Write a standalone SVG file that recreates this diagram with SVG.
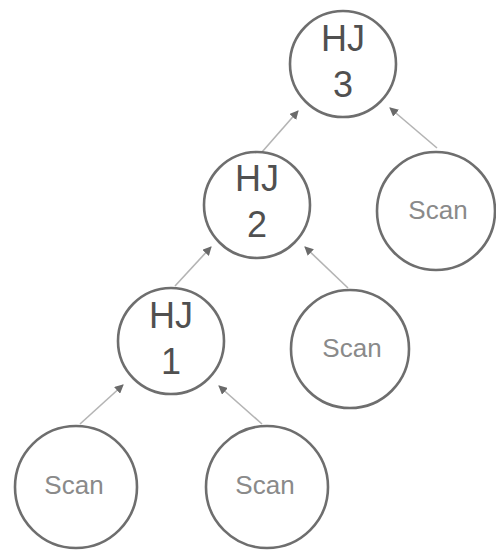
<svg xmlns="http://www.w3.org/2000/svg" width="496" height="550" viewBox="0 0 496 550">
  <style>
    .node circle { fill: #ffffff; stroke: #6e6e6e; stroke-width: 2.6; }
    .hj { font-family: "Liberation Sans", Arial, sans-serif; font-size: 36px; fill: #505050; text-anchor: middle; }
    .scan { font-family: "Liberation Sans", Arial, sans-serif; font-size: 26px; fill: #8a8a8a; text-anchor: middle; }
    .edge { stroke: #b4b4b4; stroke-width: 1.6; fill: none; marker-end: url(#arrow); }
  </style>
  <defs>
    <marker id="arrow" markerUnits="userSpaceOnUse" markerWidth="9" markerHeight="9" refX="8" refY="4.5" orient="auto">
      <path d="M0,0 L9,4.5 L0,9 Z" fill="#6a6a6a"/>
    </marker>
  </defs>

  <g id="connectors">
    <line class="edge" x1="80" y1="424" x2="123" y2="385"/>
    <line class="edge" x1="262" y1="424" x2="219" y2="386"/>
    <line class="edge" x1="175" y1="286" x2="211" y2="247"/>
    <line class="edge" x1="348" y1="288" x2="305" y2="247"/>
    <line class="edge" x1="262" y1="152" x2="298" y2="111"/>
    <line class="edge" x1="437" y1="148" x2="390" y2="108"/>
  </g>

  <g id="hj3" class="node">
    <circle cx="343" cy="64" r="53"/>
    <text class="hj" x="343" y="51">HJ</text>
    <text class="hj" x="343" y="97">3</text>
  </g>
  <g id="hj2" class="node">
    <circle cx="257" cy="205" r="53"/>
    <text class="hj" x="257" y="191">HJ</text>
    <text class="hj" x="257" y="237">2</text>
  </g>
  <g id="hj1" class="node">
    <circle cx="171" cy="341" r="53"/>
    <text class="hj" x="171" y="328">HJ</text>
    <text class="hj" x="171" y="374">1</text>
  </g>
  <g id="scan3" class="node">
    <circle cx="436" cy="211" r="59"/>
    <text class="scan" x="438" y="219">Scan</text>
  </g>
  <g id="scan2" class="node">
    <circle cx="350" cy="349" r="59"/>
    <text class="scan" x="352" y="357">Scan</text>
  </g>
  <g id="scan1a" class="node">
    <circle cx="76" cy="487" r="61"/>
    <text class="scan" x="74" y="494">Scan</text>
  </g>
  <g id="scan1b" class="node">
    <circle cx="267" cy="487" r="61"/>
    <text class="scan" x="265" y="494">Scan</text>
  </g>
</svg>
